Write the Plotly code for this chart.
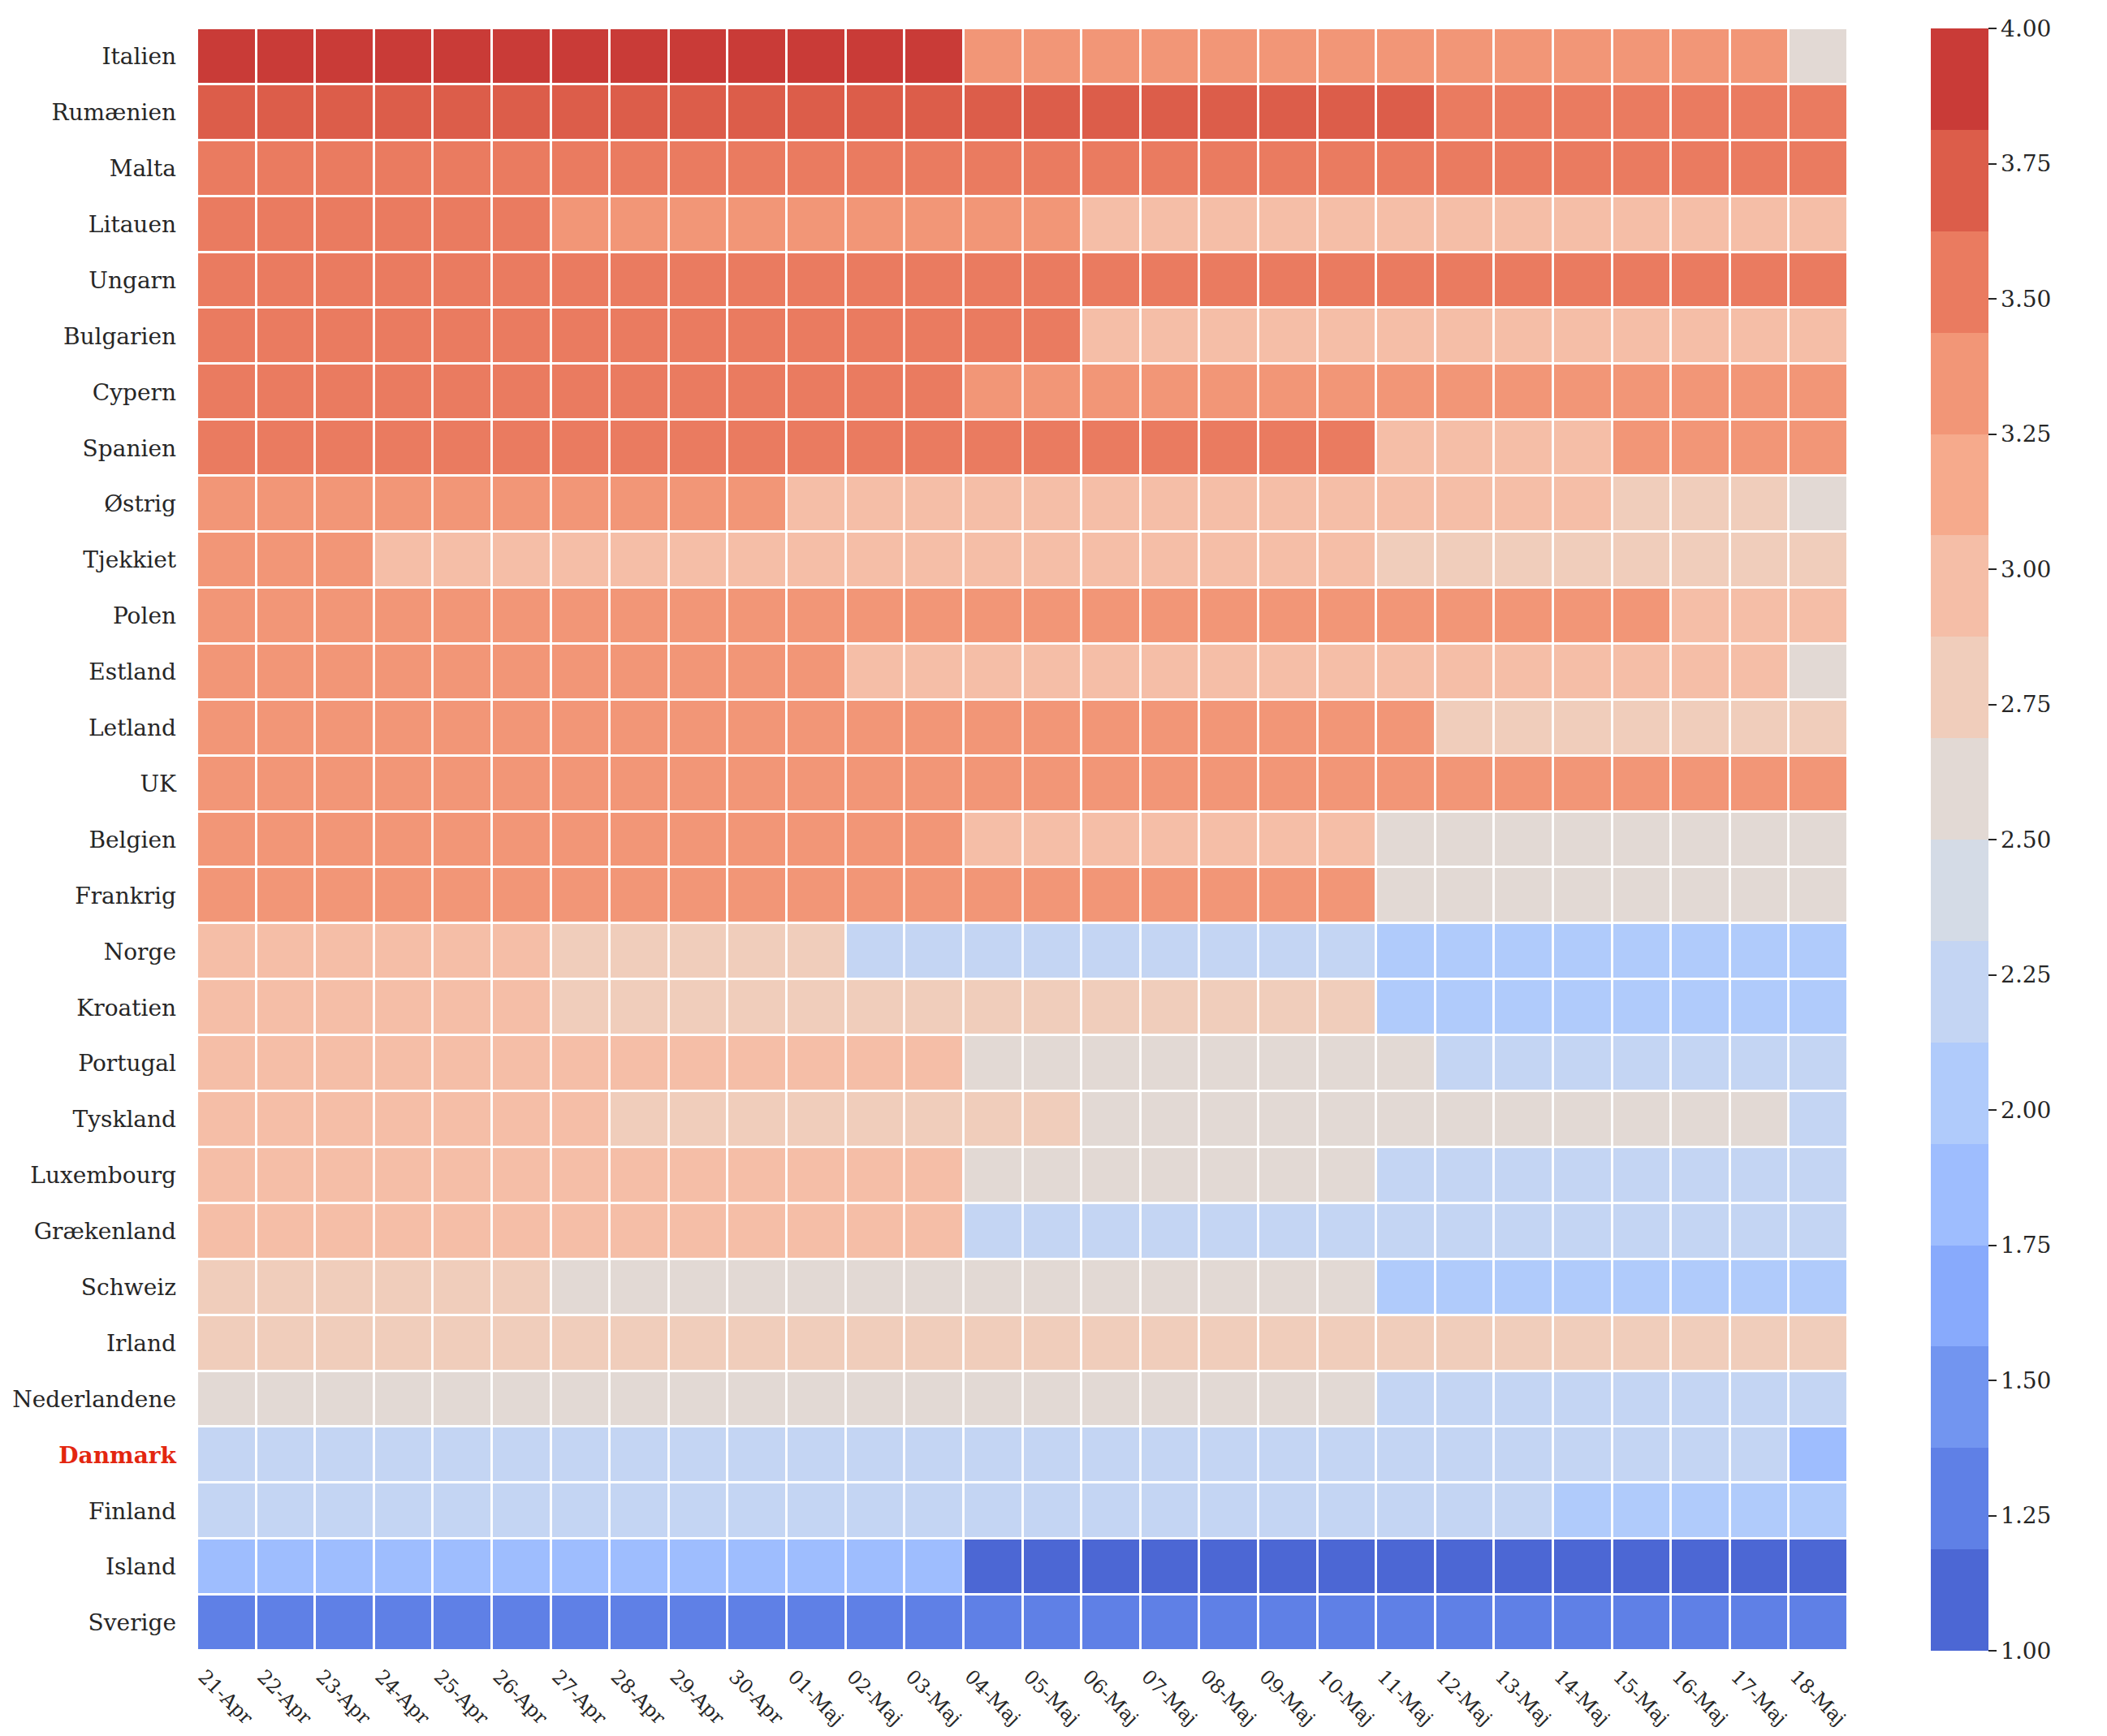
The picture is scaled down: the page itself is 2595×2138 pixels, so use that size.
import plotly.graph_objects as go

countries = ["Italien", "Rumænien", "Malta", "Litauen", "Ungarn", "Bulgarien", "Cypern",
             "Spanien", "Østrig", "Tjekkiet", "Polen", "Estland", "Letland", "UK",
             "Belgien", "Frankrig", "Norge", "Kroatien", "Portugal", "Tyskland",
             "Luxembourg", "Grækenland", "Schweiz", "Irland", "Nederlandene",
             "Danmark", "Finland", "Island", "Sverige"]

dates = ["21-Apr", "22-Apr", "23-Apr", "24-Apr", "25-Apr", "26-Apr", "27-Apr", "28-Apr",
         "29-Apr", "30-Apr", "01-Maj", "02-Maj", "03-Maj", "04-Maj", "05-Maj", "06-Maj",
         "07-Maj", "08-Maj", "09-Maj", "10-Maj", "11-Maj", "12-Maj", "13-Maj", "14-Maj",
         "15-Maj", "16-Maj", "17-Maj", "18-Maj"]

italien = [3.91, 3.91, 3.91, 3.91, 3.91, 3.91, 3.91, 3.91, 3.91, 3.91, 3.91, 3.91, 3.91,
           3.34, 3.34, 3.34, 3.34, 3.34, 3.34, 3.34, 3.34, 3.34, 3.34, 3.34, 3.34, 3.34, 3.34,
           2.59]
rumaenien = [3.72, 3.72, 3.72, 3.72, 3.72, 3.72, 3.72, 3.72, 3.72, 3.72, 3.72, 3.72, 3.72, 3.72,
             3.72, 3.72, 3.72, 3.72, 3.72, 3.72, 3.72,
             3.53, 3.53, 3.53, 3.53, 3.53, 3.53, 3.53]
malta = [3.53, 3.53, 3.53, 3.53, 3.53, 3.53, 3.53, 3.53, 3.53, 3.53, 3.53, 3.53, 3.53, 3.53,
         3.53, 3.53, 3.53, 3.53, 3.53, 3.53, 3.53, 3.53, 3.53, 3.53, 3.53, 3.53, 3.53, 3.53]
litauen = [3.53, 3.53, 3.53, 3.53, 3.53, 3.53,
           3.34, 3.34, 3.34, 3.34, 3.34, 3.34, 3.34, 3.34, 3.34,
           2.97, 2.97, 2.97, 2.97, 2.97, 2.97, 2.97, 2.97, 2.97, 2.97, 2.97, 2.97, 2.97]
ungarn = [3.53, 3.53, 3.53, 3.53, 3.53, 3.53, 3.53, 3.53, 3.53, 3.53, 3.53, 3.53, 3.53, 3.53,
          3.53, 3.53, 3.53, 3.53, 3.53, 3.53, 3.53, 3.53, 3.53, 3.53, 3.53, 3.53, 3.53, 3.53]
bulgarien = [3.53, 3.53, 3.53, 3.53, 3.53, 3.53, 3.53, 3.53, 3.53, 3.53, 3.53, 3.53, 3.53, 3.53,
             3.53,
             2.97, 2.97, 2.97, 2.97, 2.97, 2.97, 2.97, 2.97, 2.97, 2.97, 2.97, 2.97, 2.97]
cypern = [3.53, 3.53, 3.53, 3.53, 3.53, 3.53, 3.53, 3.53, 3.53, 3.53, 3.53, 3.53, 3.53,
          3.34, 3.34, 3.34, 3.34, 3.34, 3.34, 3.34, 3.34, 3.34, 3.34, 3.34, 3.34, 3.34, 3.34, 3.34]
spanien = [3.53, 3.53, 3.53, 3.53, 3.53, 3.53, 3.53, 3.53, 3.53, 3.53, 3.53, 3.53, 3.53, 3.53,
           3.53, 3.53, 3.53, 3.53, 3.53, 3.53,
           2.97, 2.97, 2.97, 2.97,
           3.34, 3.34, 3.34, 3.34]
oestrig = [3.34, 3.34, 3.34, 3.34, 3.34, 3.34, 3.34, 3.34, 3.34, 3.34,
           2.97, 2.97, 2.97, 2.97, 2.97, 2.97, 2.97, 2.97, 2.97, 2.97, 2.97, 2.97, 2.97, 2.97,
           2.78, 2.78, 2.78,
           2.59]
tjekkiet = [3.34, 3.34, 3.34,
            2.97, 2.97, 2.97, 2.97, 2.97, 2.97, 2.97, 2.97, 2.97, 2.97, 2.97, 2.97, 2.97, 2.97,
            2.97, 2.97, 2.97,
            2.78, 2.78, 2.78, 2.78, 2.78, 2.78, 2.78, 2.78]
polen = [3.34, 3.34, 3.34, 3.34, 3.34, 3.34, 3.34, 3.34, 3.34, 3.34, 3.34, 3.34, 3.34, 3.34,
         3.34, 3.34, 3.34, 3.34, 3.34, 3.34, 3.34, 3.34, 3.34, 3.34, 3.34,
         2.97, 2.97, 2.97]
estland = [3.34, 3.34, 3.34, 3.34, 3.34, 3.34, 3.34, 3.34, 3.34, 3.34, 3.34,
           2.97, 2.97, 2.97, 2.97, 2.97, 2.97, 2.97, 2.97, 2.97, 2.97, 2.97, 2.97, 2.97, 2.97,
           2.97, 2.97,
           2.59]
letland = [3.34, 3.34, 3.34, 3.34, 3.34, 3.34, 3.34, 3.34, 3.34, 3.34, 3.34, 3.34, 3.34, 3.34,
           3.34, 3.34, 3.34, 3.34, 3.34, 3.34, 3.34,
           2.78, 2.78, 2.78, 2.78, 2.78, 2.78, 2.78]
uk = [3.34, 3.34, 3.34, 3.34, 3.34, 3.34, 3.34, 3.34, 3.34, 3.34, 3.34, 3.34, 3.34, 3.34,
      3.34, 3.34, 3.34, 3.34, 3.34, 3.34, 3.34, 3.34, 3.34, 3.34, 3.34, 3.34, 3.34, 3.34]
belgien = [3.34, 3.34, 3.34, 3.34, 3.34, 3.34, 3.34, 3.34, 3.34, 3.34, 3.34, 3.34, 3.34,
           2.97, 2.97, 2.97, 2.97, 2.97, 2.97, 2.97,
           2.59, 2.59, 2.59, 2.59, 2.59, 2.59, 2.59, 2.59]
frankrig = [3.34, 3.34, 3.34, 3.34, 3.34, 3.34, 3.34, 3.34, 3.34, 3.34, 3.34, 3.34, 3.34, 3.34,
            3.34, 3.34, 3.34, 3.34, 3.34, 3.34,
            2.59, 2.59, 2.59, 2.59, 2.59, 2.59, 2.59, 2.59]
norge = [2.97, 2.97, 2.97, 2.97, 2.97, 2.97,
         2.78, 2.78, 2.78, 2.78, 2.78,
         2.22, 2.22, 2.22, 2.22, 2.22, 2.22, 2.22, 2.22, 2.22,
         2.03, 2.03, 2.03, 2.03, 2.03, 2.03, 2.03, 2.03]
kroatien = [2.97, 2.97, 2.97, 2.97, 2.97, 2.97,
            2.78, 2.78, 2.78, 2.78, 2.78, 2.78, 2.78, 2.78, 2.78, 2.78, 2.78, 2.78, 2.78, 2.78,
            2.03, 2.03, 2.03, 2.03, 2.03, 2.03, 2.03, 2.03]
portugal = [2.97, 2.97, 2.97, 2.97, 2.97, 2.97, 2.97, 2.97, 2.97, 2.97, 2.97, 2.97, 2.97,
            2.59, 2.59, 2.59, 2.59, 2.59, 2.59, 2.59, 2.59,
            2.22, 2.22, 2.22, 2.22, 2.22, 2.22, 2.22]
tyskland = [2.97, 2.97, 2.97, 2.97, 2.97, 2.97, 2.97,
            2.78, 2.78, 2.78, 2.78, 2.78, 2.78, 2.78, 2.78,
            2.59, 2.59, 2.59, 2.59, 2.59, 2.59, 2.59, 2.59, 2.59, 2.59, 2.59, 2.59,
            2.22]
luxembourg = [2.97, 2.97, 2.97, 2.97, 2.97, 2.97, 2.97, 2.97, 2.97, 2.97, 2.97, 2.97, 2.97,
              2.59, 2.59, 2.59, 2.59, 2.59, 2.59, 2.59,
              2.22, 2.22, 2.22, 2.22, 2.22, 2.22, 2.22, 2.22]
graekenland = [2.97, 2.97, 2.97, 2.97, 2.97, 2.97, 2.97, 2.97, 2.97, 2.97, 2.97, 2.97, 2.97,
               2.22, 2.22, 2.22, 2.22, 2.22, 2.22, 2.22, 2.22, 2.22, 2.22, 2.22, 2.22, 2.22,
               2.22, 2.22]
schweiz = [2.78, 2.78, 2.78, 2.78, 2.78, 2.78,
           2.59, 2.59, 2.59, 2.59, 2.59, 2.59, 2.59, 2.59, 2.59, 2.59, 2.59, 2.59, 2.59, 2.59,
           2.03, 2.03, 2.03, 2.03, 2.03, 2.03, 2.03, 2.03]
irland = [2.78, 2.78, 2.78, 2.78, 2.78, 2.78, 2.78, 2.78, 2.78, 2.78, 2.78, 2.78, 2.78, 2.78,
          2.78, 2.78, 2.78, 2.78, 2.78, 2.78, 2.78, 2.78, 2.78, 2.78, 2.78, 2.78, 2.78, 2.78]
nederlandene = [2.59, 2.59, 2.59, 2.59, 2.59, 2.59, 2.59, 2.59, 2.59, 2.59, 2.59, 2.59, 2.59,
                2.59, 2.59, 2.59, 2.59, 2.59, 2.59, 2.59,
                2.22, 2.22, 2.22, 2.22, 2.22, 2.22, 2.22, 2.22]
danmark = [2.22, 2.22, 2.22, 2.22, 2.22, 2.22, 2.22, 2.22, 2.22, 2.22, 2.22, 2.22, 2.22, 2.22,
           2.22, 2.22, 2.22, 2.22, 2.22, 2.22, 2.22, 2.22, 2.22, 2.22, 2.22, 2.22, 2.22,
           1.84]
finland = [2.22, 2.22, 2.22, 2.22, 2.22, 2.22, 2.22, 2.22, 2.22, 2.22, 2.22, 2.22, 2.22, 2.22,
           2.22, 2.22, 2.22, 2.22, 2.22, 2.22, 2.22, 2.22, 2.22,
           2.03, 2.03, 2.03, 2.03, 2.03]
island = [1.84, 1.84, 1.84, 1.84, 1.84, 1.84, 1.84, 1.84, 1.84, 1.84, 1.84, 1.84, 1.84,
          1.09, 1.09, 1.09, 1.09, 1.09, 1.09, 1.09, 1.09, 1.09, 1.09, 1.09, 1.09, 1.09, 1.09, 1.09]
sverige = [1.28, 1.28, 1.28, 1.28, 1.28, 1.28, 1.28, 1.28, 1.28, 1.28, 1.28, 1.28, 1.28, 1.28,
           1.28, 1.28, 1.28, 1.28, 1.28, 1.28, 1.28, 1.28, 1.28, 1.28, 1.28, 1.28, 1.28, 1.28]

z = [italien, rumaenien, malta, litauen, ungarn, bulgarien, cypern, spanien, oestrig,
     tjekkiet, polen, estland, letland, uk, belgien, frankrig, norge, kroatien, portugal,
     tyskland, luxembourg, graekenland, schweiz, irland, nederlandene, danmark, finland,
     island, sverige]

cbar_ticks = [1.00, 1.25, 1.50, 1.75, 2.00, 2.25, 2.50, 2.75, 3.00, 3.25, 3.50, 3.75, 4.00]

# 16 discrete coolwarm bands from 1.0 (blue) to 4.0 (red)
band_colors = ["#4C67D4", "#5F80E6", "#7295F0", "#88AAFC", "#9EBDFE", "#B0CBFB",
               "#C4D5F3", "#D4DBE6", "#E2D9D4", "#F0CDBB", "#F5BEA7", "#F6AA8C",
               "#F29677", "#EA7B60", "#DC5D4A", "#C93B37"]
n = len(band_colors)
colorscale = []
for i, c in enumerate(band_colors):
    colorscale.append([i / n, c])
    colorscale.append([(i + 1) / n, c])

FONT = "DejaVu Serif"
FS = 28
XFS = 24
TXT = "#262626"

ylabels = [("<b><span style='color:#E3260F'>%s</span></b>" % c) if c == "Danmark" else c
           for c in countries]

fig = go.Figure(go.Heatmap(
    z=z, x=dates, y=countries,
    colorscale=colorscale, zmin=1.0, zmax=4.0,
    xgap=3, ygap=3,
    colorbar=dict(
        thickness=71, thicknessmode="pixels",
        len=1.0, lenmode="fraction", y=0.5, yanchor="middle",
        x=1.0502, xanchor="left", xpad=0, ypad=0,
        outlinewidth=0,
        tickvals=cbar_ticks,
        ticktext=["%.2f" % v for v in cbar_ticks],
        ticks="outside", ticklen=10, tickwidth=2, tickcolor=TXT,
        tickfont=dict(family=FONT, size=FS, color=TXT),
    ),
))

# page body adds an 8px margin, so the figure is 8px smaller than the window
fig.update_layout(
    width=2587, height=2130,
    margin=dict(l=235, r=319, t=27, b=105, autoexpand=False),
    plot_bgcolor="white", paper_bgcolor="white",
    font=dict(family=FONT, size=FS, color=TXT),
)
fig.update_xaxes(
    type="category", tickangle=45, showgrid=False, zeroline=False, showline=False,
    ticks="", tickfont=dict(family=FONT, size=XFS, color=TXT),
    ticklabelstandoff=12, ticklabelshift=-28, automargin=False,
)
fig.update_yaxes(
    type="category", autorange="reversed", showgrid=False, zeroline=False, showline=False,
    ticks="", tickvals=countries, ticktext=ylabels,
    tickfont=dict(family=FONT, size=FS, color=TXT),
    ticklabelstandoff=25, automargin=False,
)

fig.write_html("out.html")
